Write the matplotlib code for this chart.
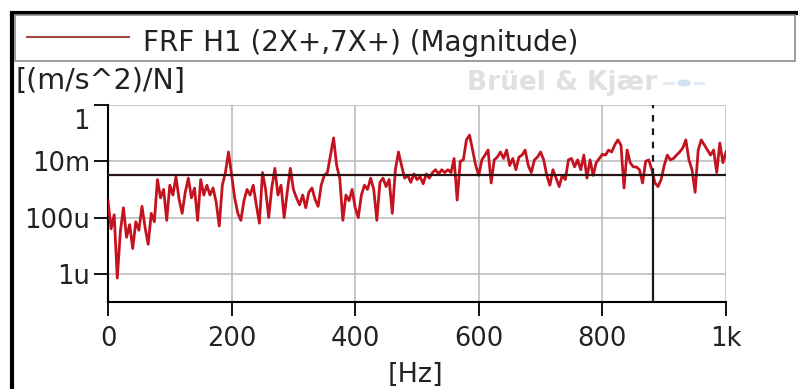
import matplotlib
matplotlib.use("Agg")
import matplotlib.pyplot as plt
import numpy as np
from matplotlib.patches import Rectangle, Circle
from matplotlib.lines import Line2D
from matplotlib.transforms import ScaledTranslation

# Frequency axis (Hz) and FRF magnitude as log10 of (m/s^2)/N
freq_hz = np.arange(0, 1001, 5)
log_mag = [
    -3.4, -4.4, -3.9, -6.15, -4.5, -3.65, -4.7, -4.25, -5.1, -4.15,
    -4.45, -3.6, -4.35, -4.95, -3.85, -4.15, -2.65, -3.3, -3.0, -4.1,
    -2.85,
    -3.2, -2.55, -3.35, -3.85, -3.1, -2.6, -3.3, -2.95, -4.1, -2.65,
    -3.2, -2.85, -3.2, -2.95, -3.45, -4.3, -2.85, -2.4, -1.67, -2.5,
    -3.3, -3.85, -4.1, -3.4, -3.0, -3.2, -2.85, -3.55, -4.2, -2.4,
    -3.0, -4.0, -2.95, -2.25, -3.2, -2.85, -4.0, -3.1, -2.25, -3.0,
    -3.3, -3.55, -3.2, -3.65, -3.1, -2.95, -3.35, -3.6, -2.85, -2.5,
    -2.4, -1.78, -1.17, -2.15, -2.6, -4.1, -3.2, -3.4, -3.0, -3.65,
    -4.0, -3.2, -2.85, -3.0, -2.6, -3.0, -4.1, -2.75, -2.6, -2.9,
    -2.65, -3.85, -2.3, -1.67, -2.15, -2.6, -2.5, -2.75, -2.45, -2.65,
    -2.55, -2.8, -2.45, -2.6, -2.4, -2.3, -2.45, -2.3, -2.4, -2.3,
    -2.4, -1.9, -3.38, -2.0, -1.95, -1.24, -1.07, -1.6, -2.15, -2.5,
    -1.95, -1.78, -1.6, -2.77, -1.95, -1.85, -1.67, -1.9, -1.6, -2.15,
    -1.9, -2.3, -1.85, -1.78, -1.6, -2.15, -2.4, -1.95, -1.85, -1.67,
    -1.95, -2.5, -2.85, -2.3, -2.6, -2.9, -2.5, -2.65, -1.95, -1.9,
    -2.2, -1.95, -2.3, -1.78, -2.6, -1.95, -2.5, -2.05, -1.9, -1.75,
    -1.78, -1.6, -1.67, -1.42, -1.24, -1.42, -2.95, -1.6, -2.05, -2.2,
    -2.2, -2.3, -2.77, -2.0, -1.95, -2.3, -2.77, -2.9, -2.65, -2.15,
    -1.78, -1.95, -1.9, -1.78, -1.67, -1.53, -1.24, -1.95, -2.3, -3.1,
    -1.6, -1.24, -1.42, -1.6, -1.78, -1.6, -2.4, -1.35, -2.05, -1.67,
]
magnitude = 10.0 ** np.array(log_mag)

cursor_freq = 882
cursor_level = 3.2e-3

y_ticks = [1, 1e-2, 1e-4, 1e-6]
y_tick_labels = ["1", "10m", "100u", "1u"]
x_ticks = [0, 200, 400, 600, 800, 1000]
x_tick_labels = ["0", "200", "400", "600", "800", "1k"]
legend_label = "FRF H1 (2X+,7X+) (Magnitude)"
y_unit = "[(m/s^2)/N]"
x_unit = "[Hz]"

W, H = 798, 389
plt.rcParams["font.family"] = ["DejaVu Sans"]
TEXT = "#222222"


def fx(x):
    return x / W


def fy(y):
    return 1 - y / H


fig = plt.figure(figsize=(W / 100, H / 100), dpi=100)
fig.patch.set_facecolor("white")

# window frame (left/top edges) and legend strip
fig.add_artist(Rectangle((fx(12), fy(400)), fx(800), (400 - 13) / H,
                         transform=fig.transFigure, fill=False,
                         edgecolor="black", linewidth=3, zorder=0))
fig.add_artist(Rectangle((fx(15), fy(61)), fx(780), 46 / H,
                         transform=fig.transFigure, facecolor="white",
                         edgecolor="#8c8c8c", linewidth=1.2, zorder=1))
fig.add_artist(Line2D([fx(27), fx(129)], [fy(37), fy(37)],
                      transform=fig.transFigure, color="#a04848",
                      linewidth=1.5, zorder=2))
fig.text(fx(143), fy(43), legend_label, fontsize=20, color=TEXT,
         ha="left", va="center")

# watermark
fig.text(fx(467), fy(83), "Brüel & Kjær", fontsize=19, fontweight="bold",
         color="#e0e0e0", ha="left", va="center")
fig.add_artist(Circle((fx(684), fy(83)), 7 / W, transform=fig.transFigure,
                      facecolor="#d3e2f3", edgecolor="none"))
for x0, x1 in [(664, 673), (695, 703)]:
    fig.add_artist(Line2D([fx(x0), fx(x1)], [fy(83), fy(83)],
                          transform=fig.transFigure, color="#dfe8f3",
                          linewidth=2))

# unit labels
fig.text(fx(15), fy(81), y_unit, fontsize=20.5, color=TEXT,
         ha="left", va="center")
fig.text(fx(415), fy(375), x_unit, fontsize=19.5, color=TEXT,
         ha="center", va="center")

ax = fig.add_axes([fx(108), fy(302), 618 / W, 197 / H])
ax.set_facecolor("none")
ax.set_yscale("log")
ax.set_xlim(0, 1000)
ax.set_ylim(1e-7, 1)

ax.plot(freq_hz, magnitude, color="#c4121f", linewidth=2.0, zorder=3)

ax.axhline(cursor_level, color="#2a1414", linewidth=1.6, zorder=4)
ax.plot([cursor_freq, cursor_freq], [1e-7, cursor_level], color="#1a1a1a",
        linewidth=1.6, zorder=4)
ax.plot([cursor_freq, cursor_freq], [cursor_level, 1], color="#1a1a1a",
        linewidth=1.6, linestyle=(0, (3, 3)), zorder=4)

ax.set_xticks(x_ticks)
ax.set_xticklabels(x_tick_labels)
ax.set_yticks(y_ticks)
ax.set_yticklabels(y_tick_labels)
ax.yaxis.set_minor_locator(matplotlib.ticker.NullLocator())
ax.tick_params(axis="both", which="major", direction="out", length=10,
               width=1.3, color="black", labelsize=18.5, labelcolor=TEXT)
ax.tick_params(axis="x", pad=7)
ax.tick_params(axis="y", pad=3)

# top y label sits just below its tick
top_label = ax.get_yticklabels()[0]
top_label.set_transform(top_label.get_transform() +
                        ScaledTranslation(0, -14 / 100, fig.dpi_scale_trans))

ax.grid(True, color="#bdbdbd", linewidth=1.2, zorder=0)
ax.set_axisbelow(True)
for side in ("top", "right"):
    ax.spines[side].set_visible(False)
for side in ("left", "bottom"):
    ax.spines[side].set_color("black")
    ax.spines[side].set_linewidth(1.5)

fig.savefig("out.png", dpi=100)
